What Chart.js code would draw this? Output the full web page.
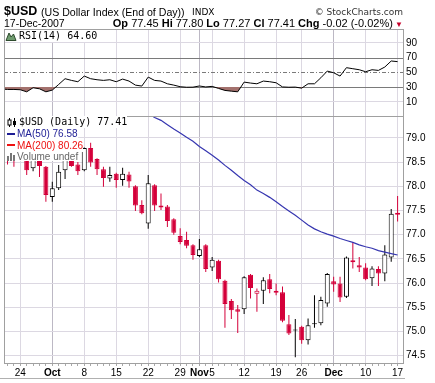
<!DOCTYPE html>
<html>
<head>
<meta charset="utf-8">
<script src="https://cdn.jsdelivr.net/npm/chart.js@4.4.1/dist/chart.umd.min.js"></script>
<style>
html,body{margin:0;padding:0;background:#fff;}
#wrap{position:relative;width:435px;height:383px;overflow:hidden;background:#fff;}
#wrap canvas{position:absolute;left:0;top:0;}
.t{position:absolute;white-space:nowrap;color:#000;}
.lg{position:absolute;left:5px;white-space:nowrap;background:#fff;height:12px;font:10px/12px 'Liberation Sans',Arial,sans-serif;}
.mono{font:10px/12px 'DejaVu Sans Mono',monospace;}
.dash{display:inline-block;width:8px;height:2px;vertical-align:middle;margin:0 2px 1px 2px;}
svg{vertical-align:middle;}
</style>
</head>
<body>
<div id="wrap">
  <canvas id="mainChart" width="435" height="383"></canvas>
  <canvas id="rsiChart" width="435" height="383"></canvas>

  <div class="t" style="left:4px;top:4.5px;font:bold 12.5px/12.5px 'Liberation Sans',Arial,sans-serif;">$USD</div>
  <div class="t" style="left:41px;top:7px;font:10.6px/10.6px 'Liberation Sans',Arial,sans-serif;">(US Dollar Index (End of Day))</div>
  <div class="t" style="left:192px;top:8px;font:9px/9px 'DejaVu Sans',sans-serif;">INDX</div>
  <div class="t" style="right:32px;top:8px;font:9px/9px 'DejaVu Sans',sans-serif;color:#333;">&copy; StockCharts.com</div>
  <div class="t" style="left:4px;top:18px;font:10.5px/10.5px 'Liberation Sans',Arial,sans-serif;">17-Dec-2007</div>
  <div class="t" style="right:32px;top:17.5px;font:11px/11px 'Liberation Sans',Arial,sans-serif;"><b>Op</b> 77.45 <b>Hi</b> 77.80 <b>Lo</b> 77.27 <b>Cl</b> 77.41 <b>Chg</b> -0.02 (-0.02%)<span style="color:#c8002a;font-size:8px;"> &#9660;</span></div>

  <div class="lg mono" style="top:30px;"><svg width="12" height="10" style="margin-right:2px"><polygon points="1,9.5 4,2 6,6 8.5,3 11,9.5" fill="#6f9c6f" stroke="#2d4a2d" stroke-width="1"/></svg>RSI(14) 64.60</div>

  <div class="lg mono" style="top:116px;padding-left:2px;"><svg width="10" height="9" style="margin-right:2px"><line x1="2.5" y1="0" x2="2.5" y2="9" stroke="#000"/><rect x="1" y="2" width="3" height="5" fill="#fff" stroke="#000" stroke-width="1"/><line x1="7.5" y1="0" x2="7.5" y2="9" stroke="#000"/><rect x="6" y="3" width="3" height="4" fill="#000"/></svg>$USD (Daily) 77.41</div>
  <div class="lg" style="top:128px;color:#1c1c94;"><span class="dash" style="background:#1c1c94"></span>MA(50) 76.58</div>
  <div class="lg" style="top:139.5px;color:#ee1111;"><span class="dash" style="background:#ee1111"></span>MA(200) 80.26</div>
  <div class="lg" style="top:150.5px;height:10px;color:#666;"><svg width="9" height="8" style="margin:0 1px 0 2px"><rect x="0" y="3" width="2" height="5" fill="#777"/><rect x="3" y="0" width="2" height="8" fill="#777"/><rect x="6" y="2" width="2" height="6" fill="#777"/></svg>Volume undef</div>

  <div style="position:absolute;left:0;top:378px;width:405px;height:1px;background:#b0b0b0;"></div>
</div>

<script>
// ---- data ----
const dates = [
 '09-19','09-20','09-21','09-24','09-25','09-26','09-27','09-28',
 '10-01','10-02','10-03','10-04','10-05',
 '10-08','10-09','10-10','10-11','10-12',
 '10-15','10-16','10-17','10-18','10-19',
 '10-22','10-23','10-24','10-25','10-26',
 '10-29','10-30','10-31','11-01','11-02',
 '11-05','11-06','11-07','11-08','11-09',
 '11-12','11-13','11-14','11-15','11-16',
 '11-19','11-20','11-21','11-23',
 '11-26','11-27','11-28','11-29','11-30',
 '12-03','12-04','12-05','12-06','12-07',
 '12-10','12-11','12-12','12-13','12-14',
 '12-17'];

const opens = [78.80,78.70,78.62,78.62,78.60,78.37,78.60,78.40,77.78,77.96,78.33,78.55,78.45,78.33,78.79,78.56,78.35,78.16,78.26,78.13,78.24,78.00,77.61,77.23,78.02,77.60,77.58,77.32,76.97,76.89,76.78,76.56,76.78,76.32,76.46,76.05,75.63,75.46,75.46,76.17,75.78,75.84,76.08,75.84,75.81,75.15,75.02,75.10,74.82,75.15,75.17,75.58,76.04,75.99,75.72,76.47,76.37,76.32,76.10,76.29,76.20,76.53,77.45];
const highs = [78.85,78.75,78.66,78.68,78.64,78.62,78.64,78.42,78.09,78.44,78.60,78.60,78.50,78.80,78.90,78.58,78.40,78.40,78.28,78.38,78.30,78.02,77.71,78.23,78.04,77.85,77.61,77.34,77.13,77.06,76.80,76.91,76.80,76.54,76.48,76.07,75.67,75.55,76.14,76.19,75.89,76.12,76.19,75.99,75.93,75.34,75.26,75.12,75.27,75.75,75.72,76.21,76.13,76.13,76.55,76.85,76.54,76.41,76.35,76.35,76.78,77.53,77.80];
const lows = [78.55,78.45,78.40,78.56,78.23,78.31,78.19,77.68,77.68,77.92,78.15,78.40,78.23,78.31,78.40,78.23,77.99,78.09,77.97,78.01,77.97,77.49,77.42,77.12,77.49,77.51,77.16,77.00,76.80,76.72,76.48,76.54,76.23,76.25,76.01,75.08,75.26,74.97,75.36,75.68,75.41,75.57,75.79,75.75,75.19,74.93,74.47,74.75,74.73,75.08,75.13,75.51,75.82,75.61,75.69,76.30,76.23,76.06,75.94,75.94,76.04,76.44,77.27];
const closes = [78.70,78.58,78.56,78.58,78.33,78.58,78.42,77.82,77.96,78.30,78.56,78.42,78.31,78.79,78.49,78.35,78.17,78.23,78.13,78.26,78.10,77.60,77.44,78.06,77.60,77.56,77.28,77.04,76.85,76.77,76.58,76.70,76.29,76.48,76.08,75.57,75.44,75.41,76.12,75.90,75.84,76.06,75.88,75.80,75.22,74.96,75.04,74.82,75.13,75.17,75.65,76.19,75.97,75.70,76.53,76.43,76.32,76.08,76.30,76.20,76.59,77.43,77.41];

const ma50 = [null,null,null,null,null,null,null,null,null,null,null,null,null,null,null,null,null,null,null,null,null,null,
 79.58,79.50,79.42,79.36,79.27,79.18,79.10,79.01,78.93,78.82,78.73,78.64,78.54,78.43,78.33,78.22,78.12,78.03,77.92,77.85,77.77,77.68,77.58,77.49,77.40,77.30,77.20,77.12,77.06,77.01,76.97,76.92,76.88,76.84,76.79,76.75,76.72,76.67,76.64,76.61,76.58];

const rsi14 = [27.5,26.8,26.8,26.4,23.6,29.1,27.7,23.6,25.9,33.6,41.4,39.1,37.3,45.0,41.4,40.0,39.1,40.0,37.3,40.9,38.2,32.7,31.4,43.6,39.1,38.2,34.5,32.7,30.5,29.8,29.9,31.5,30.2,31.0,28.2,25.5,24.5,23.6,36.8,35.5,34.5,38.2,37.3,35.9,30.2,29.8,30.0,28.6,34.5,34.5,42.7,51.8,49.5,45.0,56.4,55.0,53.6,50.9,53.6,52.7,57.3,65.5,64.6];

const tickDates = ['09-24','10-01','10-08','10-15','10-22','10-29','11-01','11-05','11-12','11-19','11-26','12-03','12-10','12-17'];
const tickText  = ['24','Oct','8','15','22','29','Nov','5','12','19','26','Dec','10','17'];
const monthDates = ['10-01','11-01','12-03'];
const priceTicks = [74.5,75.0,75.5,76.0,76.5,77.0,77.5,78.0,78.5,79.0];
const rsiTicks = [10,30,50,70,90];
const rsiSolidLevels = [30,70];
const rsiDashLevel = 50;

// ---- style ----
const RED = '#d4003a', BLACK = '#000000';
const GRID = '#dcd8e2', GRID_MONTH = '#bcb8c4', FRAME = '#a0a0a0';
const X_MIN = 0.45, X_MAX = 63.0;
const PRICE_MIN = 74.35, PRICE_MAX = 79.45;
const RSI_MIN = -9.3, RSI_MAX = 109.0;

const candleColor = closes.map((c,k) => (k > 0 && c < closes[k-1]) ? RED : BLACK);
const hollow = closes.map((c,k) => c >= opens[k]);
const dayTicks = dates.map((d,k) => k).filter(k => k >= X_MIN && k <= X_MAX);

const framePlugin = {
  id: 'frame',
  afterDraw(chart) {
    const {ctx, chartArea: a} = chart;
    ctx.save();
    ctx.strokeStyle = FRAME; ctx.lineWidth = 1;
    ctx.strokeRect(Math.round(a.left) + 0.5, Math.round(a.top) + 0.5,
                   Math.round(a.right - a.left) - 1, Math.round(a.bottom - a.top));
    ctx.restore();
  }
};

const rsiLevelsPlugin = {
  id: 'rsiLevels',
  beforeDatasetsDraw(chart) {
    const {ctx, chartArea: a, scales} = chart;
    const y = scales.y;
    ctx.save();
    ctx.strokeStyle = '#7a7a7a'; ctx.lineWidth = 1;
    rsiSolidLevels.forEach(v => {
      const py = Math.round(y.getPixelForValue(v)) + 0.5;
      ctx.beginPath(); ctx.moveTo(a.left, py); ctx.lineTo(a.right, py); ctx.stroke();
    });
    ctx.setLineDash([4,2,1,2]);
    const py = Math.round(y.getPixelForValue(rsiDashLevel)) + 0.5;
    ctx.beginPath(); ctx.moveTo(a.left, py); ctx.lineTo(a.right, py); ctx.stroke();
    ctx.restore();
  }
};

function xGridColor(ctx) {
  if (!ctx.tick) return 'rgba(0,0,0,0)';
  const d = dates[Math.round(ctx.tick.value)];
  if (monthDates.includes(d)) return GRID_MONTH;
  if (tickDates.includes(d)) return GRID;
  return 'rgba(0,0,0,0)';
}

function xScale(showLabels) {
  return {
    type: 'linear', min: X_MIN, max: X_MAX, offset: false,
    afterBuildTicks: s => { s.ticks = dayTicks.map(v => ({value: v})); },
    afterFit: s => { s.height = showLabels ? 20 : 0; },
    ticks: {
      display: showLabels, autoSkip: false, maxRotation: 0, minRotation: 0, padding: 1, color: '#000',
      font: ctx => ({family: "'Liberation Sans', Arial, sans-serif", size: 10,
        weight: (ctx.tick && monthDates.includes(dates[Math.round(ctx.tick.value)])) ? 'bold' : 'normal'}),
      callback: v => { const j = tickDates.indexOf(dates[Math.round(v)]); return j >= 0 ? tickText[j] : ''; }
    },
    grid: { offset: false, color: xGridColor, drawTicks: showLabels, tickLength: 3, tickColor: '#a8a8a8', lineWidth: 1 },
    border: { display: false }
  };
}

Chart.defaults.font.family = "'Liberation Sans', Arial, sans-serif";

new Chart(document.getElementById('mainChart'), {
  type: 'bar',
  data: {
    datasets: [
      { type: 'line', data: ma50.map((v,k) => ({x: k, y: v})), borderColor: '#3636b0', borderWidth: 1.2,
        pointRadius: 0, tension: 0, order: 0, clip: 0 },
      { type: 'bar', data: opens.map((o,k) => ({x: k, y: [o, closes[k]]})),
        backgroundColor: hollow.map((h,k) => h ? '#ffffff' : candleColor[k]),
        borderColor: candleColor, borderWidth: 1, borderSkipped: false,
        barThickness: 5, grouped: false, inflateAmount: 0, order: 1, clip: 0 },
      { type: 'bar', data: lows.map((l,k) => ({x: k, y: [l, highs[k]]})),
        backgroundColor: candleColor, borderWidth: 0,
        barThickness: 1, grouped: false, inflateAmount: 0, order: 2, clip: 0 }
    ]
  },
  options: {
    responsive: false, animation: false, devicePixelRatio: 1,
    layout: { padding: { top: 116, left: 4, right: 0, bottom: 0 } },
    plugins: { legend: { display: false }, tooltip: { enabled: false } },
    scales: {
      x: xScale(true),
      y: {
        type: 'linear', position: 'right', min: PRICE_MIN, max: PRICE_MAX,
        afterBuildTicks: s => { s.ticks = priceTicks.map(v => ({value: v})); },
        afterFit: s => { s.width = 31; },
        ticks: { padding: 2, color: '#000', font: {size: 10}, callback: v => Number(v).toFixed(1) },
        grid: { color: GRID, drawTicks: false },
        border: { display: false }
      }
    }
  },
  plugins: [framePlugin]
});

new Chart(document.getElementById('rsiChart'), {
  type: 'line',
  data: {
    datasets: [
      { data: rsi14.map((v,k) => ({x: k, y: v})), borderColor: '#000', borderWidth: 1, pointRadius: 0, tension: 0,
        clip: 0, fill: { target: {value: 30}, above: 'rgba(0,0,0,0)', below: '#a3716d' } }
    ]
  },
  options: {
    responsive: false, animation: false, devicePixelRatio: 1,
    layout: { padding: { top: 29, left: 4, right: 0, bottom: 267 } },
    plugins: { legend: { display: false }, tooltip: { enabled: false } },
    scales: {
      x: xScale(false),
      y: {
        type: 'linear', position: 'right', min: RSI_MIN, max: RSI_MAX,
        afterBuildTicks: s => { s.ticks = rsiTicks.map(v => ({value: v})); },
        afterFit: s => { s.width = 31; },
        ticks: { padding: 2, color: '#000', font: {size: 10}, callback: v => String(v) },
        grid: { color: ctx => (ctx.tick && (rsiSolidLevels.includes(ctx.tick.value) || ctx.tick.value === rsiDashLevel)) ? 'rgba(0,0,0,0)' : GRID, drawTicks: false },
        border: { display: false }
      }
    }
  },
  plugins: [framePlugin, rsiLevelsPlugin]
});
</script>
</body>
</html>
